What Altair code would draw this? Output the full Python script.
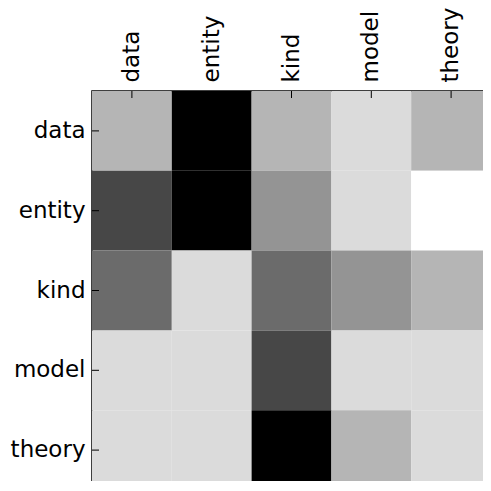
import altair as alt
import pandas as pd

labels = ["data", "entity", "kind", "model", "theory"]
# gray intensity per cell (0 = black, 1 = white), rows top to bottom
row_data = [0.71, 0.00, 0.71, 0.86, 0.71]
row_entity = [0.28, 0.00, 0.58, 0.86, 1.00]
row_kind = [0.42, 0.86, 0.42, 0.58, 0.71]
row_model = [0.86, 0.86, 0.28, 0.86, 0.86]
row_theory = [0.86, 0.86, 0.00, 0.71, 0.86]

matrix = [row_data, row_entity, row_kind, row_model, row_theory]
records = []
for r, row in zip(labels, matrix):
    for c, v in zip(labels, row):
        records.append({"row": r, "col": c, "v": v})
df = pd.DataFrame(records)
lab = pd.DataFrame({"lab": labels})

W = 399
H = 399
T = 7
FONT = "DejaVu Sans"

xs = alt.Scale(domain=labels, paddingInner=0, paddingOuter=0)
ys = alt.Scale(domain=labels, paddingInner=0, paddingOuter=0)

heat = alt.Chart(df).mark_rect().encode(
    x=alt.X("col:N", scale=xs, sort=labels, title=None,
            axis=alt.Axis(orient="top", labelAngle=-90, ticks=False, domain=False,
                          labelPadding=9, labelFontSize=23, labelFont=FONT,
                          labelColor="black")),
    y=alt.Y("row:N", scale=ys, sort=labels, title=None,
            axis=alt.Axis(orient="left", ticks=False, domain=False,
                          labelPadding=7, labelFontSize=23, labelFont=FONT,
                          labelColor="black")),
    color=alt.Color("v:Q", legend=None,
                    scale=alt.Scale(domain=[0, 1], range=["#000000", "#ffffff"],
                                    interpolate="rgb")),
)

tick_style = dict(color="black", strokeWidth=1)
top_t = alt.Chart(lab).mark_rule(**tick_style).encode(
    x=alt.X("lab:N", scale=xs, sort=labels), y=alt.value(0), y2=alt.value(T))
bot_t = alt.Chart(lab).mark_rule(**tick_style).encode(
    x=alt.X("lab:N", scale=xs, sort=labels), y=alt.value(H - T), y2=alt.value(H))
left_t = alt.Chart(lab).mark_rule(**tick_style).encode(
    y=alt.Y("lab:N", scale=ys, sort=labels), x=alt.value(0), x2=alt.value(T))
right_t = alt.Chart(lab).mark_rule(**tick_style).encode(
    y=alt.Y("lab:N", scale=ys, sort=labels), x=alt.value(W - T), x2=alt.value(W))

chart = alt.layer(heat, top_t, bot_t, left_t, right_t).properties(
    width=W, height=H,
    autosize=alt.AutoSizeParams(type="none"),
    padding={"left": 84, "top": 83, "right": -8, "bottom": -9},
).configure_view(stroke="black", strokeWidth=1.5)

chart.save("out.html", embed_options={"renderer": "svg", "actions": False})
